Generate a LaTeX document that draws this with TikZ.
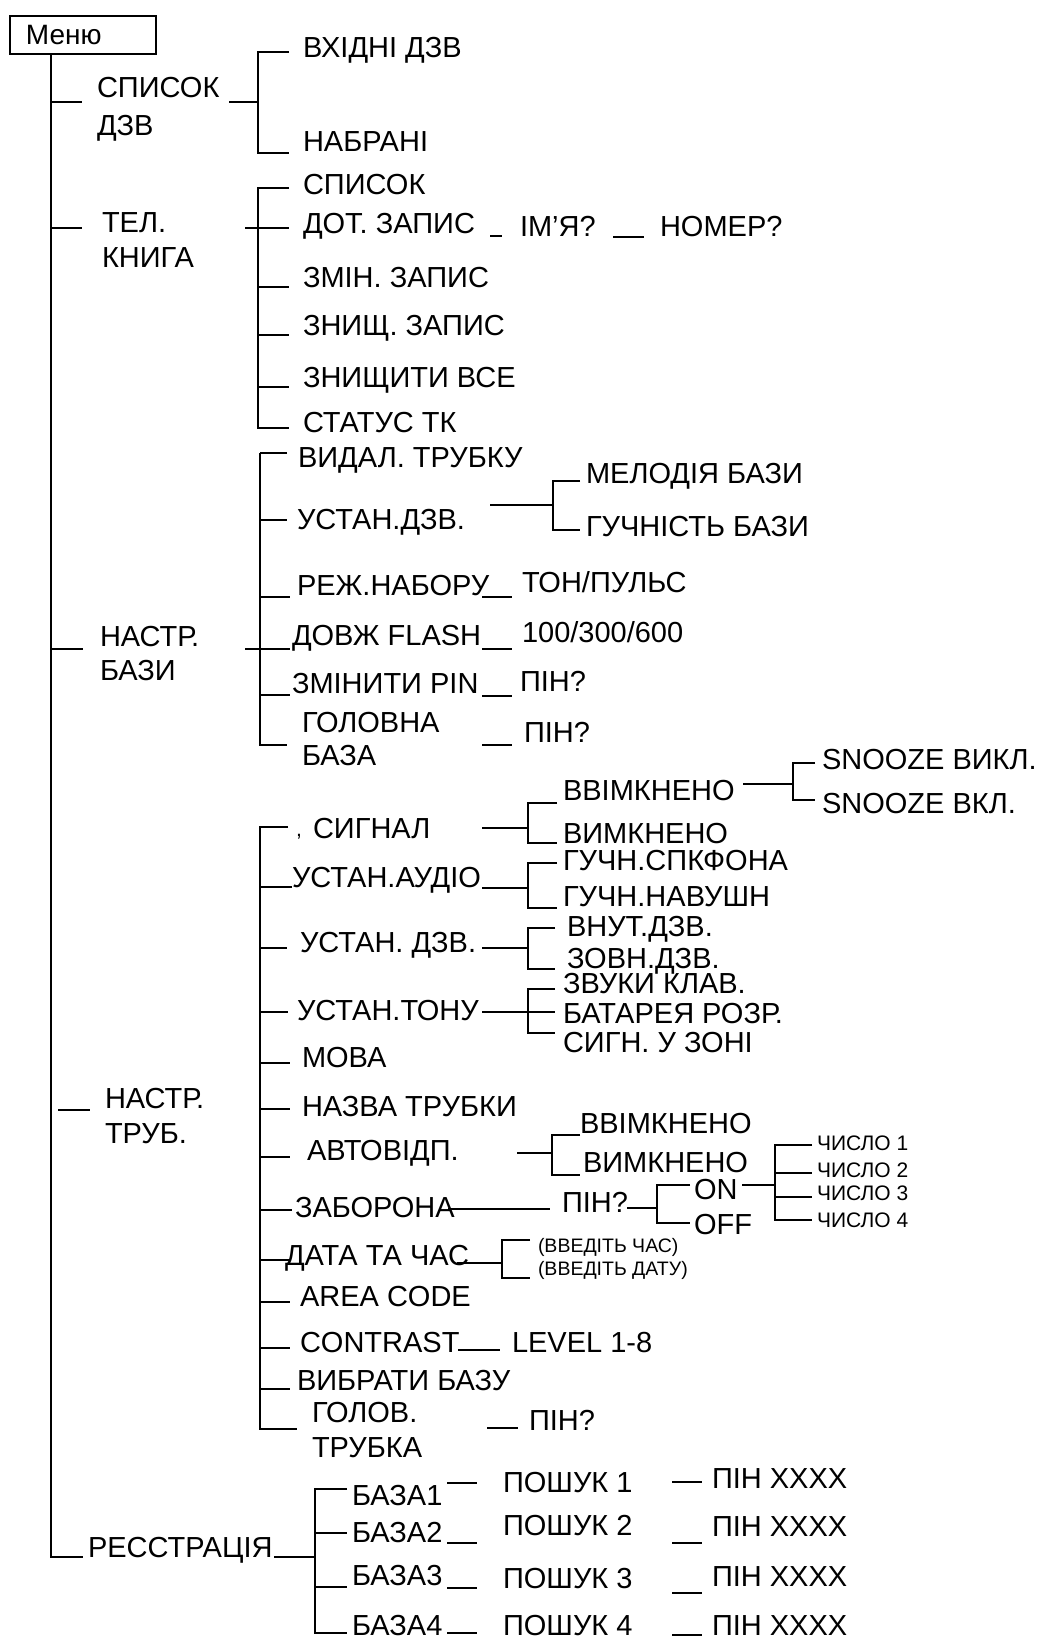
\documentclass[tikz,border=0pt]{standalone}
\usepackage{fontspec}
\setmainfont{Liberation Sans}
\begin{document}
\begin{tikzpicture}[x=1pt,y=-1pt,
  tx/.style={anchor=base west, inner sep=0pt, outer sep=0pt, font=\fontsize{29}{31}\selectfont},
  sm/.style={tx, font=\fontsize{21}{22}\selectfont},
  xs/.style={tx, font=\fontsize{19.5}{20}\selectfont},
  ln/.style={line width=2.2pt},
  tn/.style={line width=1.3pt}]
\fill[white] (0,0) rectangle (1039,1639);
\useasboundingbox (0,0) rectangle (1039,1639);

% ---------- Menu ----------
\node[draw, line width=1.8pt, anchor=north west, minimum width=146pt, minimum height=38pt,
      inner xsep=16pt, text width=114pt, align=left, font=\fontsize{28}{30}\selectfont] (menu) at (9,15) {Меню};
\coordinate (mEnd) at (51,1557);
\draw[ln] (menu.south -| mEnd) -- (mEnd) -- (83,1557);
\draw[ln] (51,102) -- (82,102);
\draw[ln] (51,228) -- (82,228);
\draw[ln] (51,649) -- (83,649);
\draw[ln] (58,1110) -- (90,1110);

% ---------- СПИСОК ДЗВ ----------
\node[tx] (sp1) at (97,97) {СПИСОК};
\node[tx] (sp2) at (97,135) {ДЗВ};
\node[tx] (vx) at (303,57) {ВХІДНІ ДЗВ};
\node[tx] (nb) at (303,151) {НАБРАНІ};
\coordinate (s1a) at (258,52); \coordinate (s1b) at (258,153);
\draw[ln] (229,102) -- (258,102);
\draw[ln] (289,52) -- (s1a) -- (s1b) -- (289,153);

% ---------- ТЕЛ. КНИГА ----------
\node[tx] (tk1) at (102,232) {ТЕЛ.};
\node[tx] (tk2) at (102,267) {КНИГА};
\node[tx] (tspis) at (303,194) {СПИСОК};
\node[tx] (tdot) at (303,233) {ДОТ. ЗАПИС};
\node[tx] (tname) at (520,236) {ІМ’Я?};
\node[tx] (tnum) at (660,236) {НОМЕР?};
\node[tx] (tzmin) at (303,287) {ЗМІН. ЗАПИС};
\node[tx] (tznz) at (303,335) {ЗНИЩ. ЗАПИС};
\node[tx] (tzall) at (303,387) {ЗНИЩИТИ ВСЕ};
\node[tx] (tstat) at (303,432) {СТАТУС ТК};
\coordinate (s2a) at (258,188); \coordinate (s2b) at (258,428);
\draw[ln] (245,228) -- (289,228);
\draw[ln] (289,188) -- (s2a) -- (s2b) -- (289,428);
\draw[ln] (258,287) -- (289,287);
\draw[ln] (258,335) -- (289,335);
\draw[ln] (258,387) -- (289,387);
\draw[ln] (490,236) -- (502,236);
\draw[ln] (613,237) -- (644,237);

% ---------- НАСТР. БАЗИ ----------
\node[tx] (nb1) at (100,646) {НАСТР.};
\node[tx] (nb2) at (100,680) {БАЗИ};
\node[tx] (bvid) at (298,467) {ВИДАЛ. ТРУБКУ};
\node[tx] (bust) at (297,529) {УСТАН.ДЗВ.};
\node[tx] (bmel) at (586,483) {МЕЛОДІЯ БАЗИ};
\node[tx] (bguc) at (586,536) {ГУЧНІСТЬ БАЗИ};
\node[tx] (brez) at (297,595) {РЕЖ.НАБОРУ};
\node[tx] (bton) at (522,592) {ТОН/ПУЛЬС};
\node[tx] (bdov) at (292,645) {ДОВЖ FLASH};
\node[tx] (bfl) at (522,642) {100/300/600};
\node[tx] (bzm) at (292,693) {ЗМІНИТИ PIN};
\node[tx] (bpin1) at (520,691) {ПІН?};
\node[tx] (bgol1) at (302,732) {ГОЛОВНА};
\node[tx] (bgol2) at (302,765) {БАЗА};
\node[tx] (bpin2) at (524,742) {ПІН?};
\coordinate (s3a) at (260,453); \coordinate (s3b) at (260,745);
\draw[ln] (245,649) -- (290,649);
\draw[tn] (287,453) -- (s3a);
\draw[ln] (s3a) -- (s3b) -- (287,745);
\draw[tn] (260,520) -- (287,520);
\draw[ln] (260,597) -- (290,597);
\draw[ln] (260,695) -- (290,695);
\draw[tn] (490,505) -- (553,505);
\draw[tn] (580,481) -- (553,481) -- (553,530) -- (580,530);
\draw[ln] (482,597) -- (512,597);
\draw[ln] (482,649) -- (512,649);
\draw[ln] (482,696) -- (512,696);
\draw[ln] (482,745) -- (512,745);

% ---------- НАСТР. ТРУБ. ----------
\node[tx] (nt1) at (105,1108) {НАСТР.};
\node[tx] (nt2) at (105,1143) {ТРУБ.};
\node[sm] (comma) at (296,836) {,};
\node[tx] (hsig) at (313,838) {СИГНАЛ};
\node[tx] (hon1) at (563,800) {ВВІМКНЕНО};
\node[tx] (hoff1) at (563,843) {ВИМКНЕНО};
\node[tx] (hsn1) at (822,769) {SNOOZE ВИКЛ.};
\node[tx] (hsn2) at (822,813) {SNOOZE ВКЛ.};
\node[tx] (haud) at (292,887) {УСТАН.АУДІО};
\node[tx] (hsp) at (563,870) {ГУЧН.СПКФОНА};
\node[tx] (hnav) at (563,906) {ГУЧН.НАВУШН};
\node[tx] (hdzv) at (300,952) {УСТАН. ДЗВ.};
\node[tx] (hvn) at (567,936) {ВНУТ.ДЗВ.};
\node[tx] (hzv) at (567,968) {ЗОВН.ДЗВ.};
\node[tx] (hton) at (297,1020) {УСТАН.ТОНУ};
\node[tx] (hzk) at (563,993) {ЗВУКИ КЛАВ.};
\node[tx] (hbat) at (563,1023) {БАТАРЕЯ РОЗР.};
\node[tx] (hsz) at (563,1052) {СИГН. У ЗОНІ};
\node[tx] (hmova) at (302,1067) {МОВА};
\node[tx] (hnaz) at (302,1116) {НАЗВА ТРУБКИ};
\node[tx] (havt) at (307,1160) {АВТОВІДП.};
\node[tx] (hon2) at (580,1133) {ВВІМКНЕНО};
\node[tx] (hoff2) at (583,1172) {ВИМКНЕНО};
\node[tx] (hzab) at (295,1217) {ЗАБОРОНА};
\node[tx] (hpin) at (562,1212) {ПІН?};
\node[tx] (hON) at (694,1199) {ON};
\node[tx] (hOFF) at (694,1234) {OFF};
\node[sm] (c1) at (817,1150) {ЧИСЛО 1};
\node[sm] (c2) at (817,1177) {ЧИСЛО 2};
\node[sm] (c3) at (817,1200) {ЧИСЛО 3};
\node[sm] (c4) at (817,1227) {ЧИСЛО 4};
\node[tx] (hdat) at (285,1265) {ДАТА ТА ЧАС};
\node[xs] (vchas) at (538,1252) {(ВВЕДІТЬ ЧАС)};
\node[xs] (vdat) at (538,1275) {(ВВЕДІТЬ ДАТУ)};
\node[tx] (harea) at (300,1306) {AREA CODE};
\node[tx] (hcon) at (300,1352) {CONTRAST};
\node[tx] (hlev) at (512,1352) {LEVEL 1-8};
\node[tx] (hvyb) at (297,1390) {ВИБРАТИ БАЗУ};
\node[tx] (hgol1) at (312,1422) {ГОЛОВ.};
\node[tx] (hgol2) at (312,1457) {ТРУБКА};
\node[tx] (hpin2) at (529,1430) {ПІН?};

\coordinate (s4a) at (260,827); \coordinate (s4b) at (260,1429);
\draw[ln] (288,827) -- (s4a) -- (s4b) -- (297,1429);
\draw[ln] (260,887) -- (292,887);
\draw[ln] (260,948) -- (287,948);
\draw[ln] (260,1012) -- (288,1012);
\draw[ln] (260,1063) -- (290,1063);
\draw[tn] (260,1109) -- (290,1109);
\draw[ln] (260,1157) -- (290,1157);
\draw[ln] (260,1210) -- (292,1210);
\draw[ln] (260,1260) -- (290,1260);
\draw[ln] (260,1302) -- (290,1302);
\draw[ln] (260,1348) -- (290,1348);
\draw[ln] (260,1389) -- (290,1389);
% СИГНАЛ
\draw[ln] (482,828) -- (528,828);
\draw[ln] (557,803) -- (528,803) -- (528,843) -- (557,843);
\draw[tn] (743,784) -- (793,784);
\draw[tn] (815,763) -- (793,763) -- (793,800) -- (815,800);
% АУДІО
\draw[ln] (482,888) -- (528,888);
\draw[ln] (557,863) -- (528,863) -- (528,908) -- (557,908);
% ДЗВ
\draw[ln] (482,948) -- (528,948);
\draw[ln] (555,928) -- (528,928) -- (528,969) -- (555,969);
% ТОНУ
\draw[ln] (482,1012) -- (555,1012);
\draw[ln] (555,989) -- (528,989) -- (528,1033) -- (555,1033);
% АВТОВІДП
\draw[ln] (517,1153) -- (552,1153);
\draw[ln] (580,1135) -- (552,1135) -- (552,1175) -- (580,1175);
% ЗАБОРОНА
\draw[ln] (448,1209) -- (550,1209);
\draw[ln] (627,1208) -- (657,1208);
\draw[ln] (690,1185) -- (657,1185) -- (657,1223) -- (690,1223);
\draw[ln] (742,1185) -- (775,1185);
\draw[ln] (812,1145) -- (775,1145) -- (775,1220) -- (812,1220);
\draw[ln] (775,1173) -- (812,1173);
\draw[tn] (775,1197) -- (812,1197);
% ДАТА
\draw[ln] (457,1263) -- (502,1263);
\draw[ln] (530,1240) -- (502,1240) -- (502,1278) -- (530,1278);
% CONTRAST, ГОЛОВ
\draw[ln] (458,1350) -- (500,1350);
\draw[ln] (487,1428) -- (518,1428);

% ---------- РЕССТРАЦІЯ ----------
\node[tx] (reg) at (88,1557) {РЕССТРАЦІЯ};
\node[tx] (b1) at (352,1505) {БАЗА1};
\node[tx] (b2) at (352,1542) {БАЗА2};
\node[tx] (b3) at (352,1585) {БАЗА3};
\node[tx] (b4) at (352,1635) {БАЗА4};
\node[tx] (p1) at (503,1492) {ПОШУК 1};
\node[tx] (p2) at (503,1535) {ПОШУК 2};
\node[tx] (p3) at (503,1588) {ПОШУК 3};
\node[tx] (p4) at (503,1635) {ПОШУК 4};
\node[tx] (x1) at (712,1488) {ПІН XXXX};
\node[tx] (x2) at (712,1536) {ПІН XXXX};
\node[tx] (x3) at (712,1586) {ПІН XXXX};
\node[tx] (x4) at (712,1635) {ПІН XXXX};
\coordinate (s5a) at (315,1489); \coordinate (s5b) at (315,1633);
\draw[ln] (274,1557) -- (315,1557);
\draw[ln] (347,1489) -- (s5a) -- (s5b) -- (347,1633);
\draw[ln] (315,1533) -- (347,1533);
\draw[ln] (315,1587) -- (347,1587);
\draw[ln] (447,1483) -- (477,1483);
\draw[ln] (447,1543) -- (477,1543);
\draw[ln] (447,1588) -- (477,1588);
\draw[ln] (447,1633) -- (477,1633);
\draw[ln] (672,1482) -- (702,1482);
\draw[ln] (672,1543) -- (702,1543);
\draw[ln] (672,1593) -- (702,1593);
\draw[ln] (672,1635) -- (702,1635);
\end{tikzpicture}
\end{document}
